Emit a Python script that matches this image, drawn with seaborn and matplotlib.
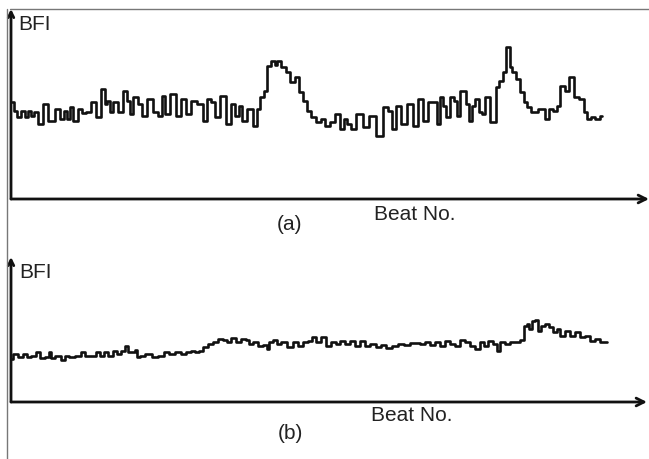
import matplotlib
matplotlib.use("Agg")
import matplotlib.pyplot as plt
from matplotlib.lines import Line2D
import seaborn as sns
import pandas as pd

# ---- data ----
beat_a = [1, 4, 7, 12, 15, 19, 21, 24, 29, 34, 40, 47, 50, 55, 57, 60, 64, 69, 73, 77,
          82, 87, 92, 95, 97, 100, 104, 109, 114, 117, 120, 124, 129, 132, 140, 144, 149,
          152, 156, 162, 167, 173, 177, 183, 189, 194, 197, 202, 206, 212, 217, 222, 226,
          229, 232, 239, 244, 247, 251, 254, 257, 262, 265, 267, 272, 277, 281, 286, 289,
          294, 297, 302, 307, 312, 316, 321, 326, 331, 334, 338, 341, 349, 354, 361, 369,
          374, 379, 382, 387, 392, 399, 404, 409, 414, 419, 424, 427, 430, 434, 436, 441,
          444, 447, 451, 454, 456, 459, 462, 466, 469, 472, 476, 479, 479, 484, 486, 489,
          494, 496, 498, 499, 502, 507, 511, 514, 517, 522, 531, 536, 539, 544, 547, 551,
          556, 559, 562, 564, 571, 574, 577, 582, 586, 591]
bfi_a = [97, 88, 82, 88, 82, 88, 83, 87, 75, 95, 78, 90, 80, 88, 80, 92, 78, 90, 86, 87,
         97, 82, 110, 95, 98, 87, 97, 87, 108, 98, 85, 102, 95, 83, 100, 87, 83,
         103, 85, 105, 83, 100, 85, 98, 95, 78, 100, 97, 82, 103, 75, 95, 83,
         93, 78, 90, 73, 90, 102, 108, 133, 138, 134, 138, 132, 127, 117, 122, 107,
         98, 88, 82, 77, 80, 73, 77, 85, 70, 80, 75, 70, 85, 72, 83, 63,
         92, 88, 70, 93, 75, 95, 73, 100, 78, 97, 97, 75, 102, 93, 82, 102,
         98, 83, 108, 108, 95, 78, 93, 100, 87, 85, 102, 102, 77, 77, 112, 118,
         127, 152, 152, 132, 127, 120, 107, 97, 92, 87, 90, 80, 90, 88, 93, 113,
         108, 122, 122, 102, 100, 87, 80, 82, 80, 83]

beat_b = [0, 4, 9, 14, 17, 22, 27, 30, 37, 39, 40, 47, 52, 55, 60, 67, 72, 75, 82, 87,
          90, 95, 99, 104, 107, 112, 115, 119, 122, 125, 127, 130, 137, 144, 150, 155,
          160, 167, 172, 177, 182, 185, 190, 194, 199, 204, 209, 214, 217, 222, 227, 232,
          237, 239, 244, 249, 254, 257, 259, 264, 267, 272, 279, 284, 289, 294, 299, 302,
          307, 312, 317, 322, 327, 331, 336, 341, 346, 351, 356, 362, 367, 372, 377, 384,
          389, 396, 401, 406, 411, 416, 422, 426, 431, 436, 441, 446, 451, 456, 461, 466,
          471, 474, 479, 484, 487, 491, 496, 502, 507, 511, 514, 517, 519, 522, 526, 527,
          532, 536, 539, 544, 547, 551, 556, 561, 566, 571, 576, 581, 586, 591, 596]
bfi_b = [43, 48, 45, 48, 45, 46, 50, 44, 45, 50, 44, 46, 42, 46, 45, 46, 50, 46, 46, 50,
         46, 50, 46, 51, 48, 51, 56, 50, 50, 52, 45, 46, 48, 45, 46, 50,
         48, 50, 48, 50, 51, 50, 51, 55, 58, 60, 63, 62, 60, 64, 60, 63,
         62, 58, 60, 56, 57, 53, 60, 62, 58, 60, 55, 60, 56, 60, 61, 65,
         60, 65, 56, 60, 58, 61, 58, 61, 56, 61, 56, 58, 55, 57, 54, 56,
         58, 57, 59, 59, 58, 60, 57, 60, 56, 61, 58, 56, 62, 60, 56, 53,
         60, 56, 61, 58, 51, 60, 58, 60, 60, 62, 76, 78, 73, 81, 82, 71,
         76, 78, 75, 70, 73, 66, 71, 66, 70, 65, 66, 61, 63, 60, 60]

axis_label_y = "BFI"
axis_label_x = "Beat No."
panel_labels = ["(a)", "(b)"]

sns.set_style("white")
plt.rcParams["font.family"] = ["Liberation Sans", "DejaVu Sans"]

W, H = 649, 460
fig = plt.figure(figsize=(W / 100, H / 100), dpi=100)


def fx(px):
    return px / W


def fy(py):
    return 1 - py / H


ax_a = fig.add_axes([fx(11), fy(200), fx(638), 190 / H])
ax_b = fig.add_axes([fx(11), fy(403), fx(636), 145 / H])

df_a = pd.DataFrame({"beat": beat_a, "bfi": bfi_a})
df_b = pd.DataFrame({"beat": beat_b, "bfi": bfi_b})

line_kw = dict(color="#111111", lw=1.9, sort=False, estimator=None,
               drawstyle="steps-mid", solid_joinstyle="round", solid_capstyle="round")
sns.lineplot(data=df_a, x="beat", y="bfi", ax=ax_a, **line_kw)
sns.lineplot(data=df_b, x="beat", y="bfi", ax=ax_b, **line_kw)

ax_a.set_xlim(0, 638)
ax_a.set_ylim(0, 190)
ax_b.set_xlim(0, 636)
ax_b.set_ylim(0, 145)

for ax in (ax_a, ax_b):
    ax.set_xlabel("")
    ax.set_ylabel("")
    ax.set_xticks([])
    ax.set_yticks([])
    for s in ("top", "right", "left", "bottom"):
        ax.spines[s].set_visible(False)
    ax.patch.set_alpha(0)
    ax.annotate("", xy=(1.0, 0), xytext=(0, 0), xycoords="axes fraction",
                arrowprops=dict(arrowstyle="->", lw=2.0, color="#111111",
                                shrinkA=0, shrinkB=0, mutation_scale=14),
                annotation_clip=False)
    ax.annotate("", xy=(0, 1.0), xytext=(0, 0), xycoords="axes fraction",
                arrowprops=dict(arrowstyle="->", lw=2.0, color="#111111",
                                shrinkA=0, shrinkB=0, mutation_scale=10),
                annotation_clip=False)

fig.add_artist(Line2D([fx(10), fx(649)], [fy(10), fy(10)], color="#777777", lw=1.0))
fig.add_artist(Line2D([fx(7), fx(7)], [fy(10), fy(460)], color="#777777", lw=1.0))

fs = 15
tc = "#222222"
fig.text(fx(18), fy(25), axis_label_y, fontsize=fs, va="center", ha="left", color=tc)
fig.text(fx(19), fy(273), axis_label_y, fontsize=fs, va="center", ha="left", color=tc)
fig.text(fx(374), fy(215), axis_label_x, fontsize=fs, va="center", ha="left", color=tc)
fig.text(fx(371), fy(416), axis_label_x, fontsize=fs, va="center", ha="left", color=tc)
fig.text(fx(290), fy(225), panel_labels[0], fontsize=fs, va="center", ha="center", color=tc)
fig.text(fx(290), fy(434), panel_labels[1], fontsize=fs, va="center", ha="center", color=tc)

fig.savefig("out.png", dpi=100, facecolor="white")
